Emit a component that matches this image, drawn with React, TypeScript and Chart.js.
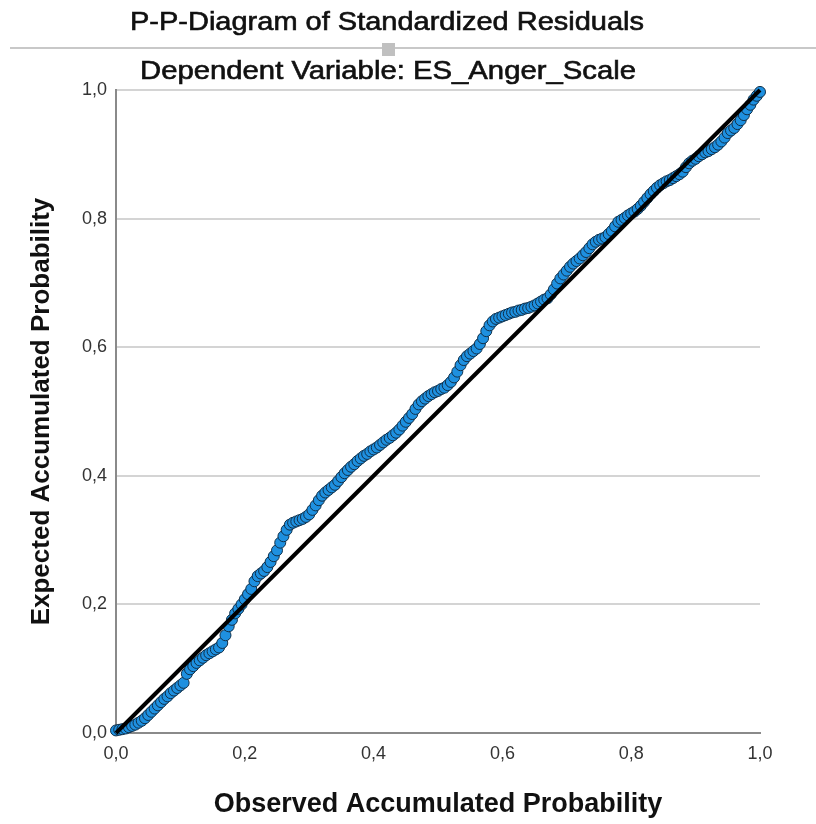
import React, { useEffect, useRef } from "react";
import { Chart, registerables } from "chart.js";

Chart.register(...registerables);

const chartTitle = "P-P-Diagram of Standardized Residuals";
const chartSubtitle = "Dependent Variable: ES_Anger_Scale";
const xAxisTitle = "Observed Accumulated Probability";
const yAxisTitle = "Expected Accumulated Probability";
const tickValues = [0, 0.2, 0.4, 0.6, 0.8, 1.0];
const tickLabels = ["0,0", "0,2", "0,4", "0,6", "0,8", "1,0"];

const observedProb = [
  0.000, 0.005, 0.010, 0.015, 0.020, 0.025, 0.030, 0.035, 0.040, 0.045,
  0.050, 0.055, 0.060, 0.065, 0.070, 0.075, 0.080, 0.085, 0.090, 0.095,
  0.100, 0.105, 0.110, 0.115, 0.120, 0.125, 0.130, 0.135, 0.140, 0.145,
  0.150, 0.155, 0.160, 0.165, 0.170, 0.175, 0.180, 0.185, 0.190, 0.195,
  0.200, 0.205, 0.210, 0.215, 0.220, 0.225, 0.230, 0.235, 0.240, 0.245,
  0.250, 0.255, 0.260, 0.265, 0.270, 0.275, 0.280, 0.285, 0.290, 0.295,
  0.300, 0.305, 0.310, 0.315, 0.320, 0.325, 0.330, 0.335, 0.340, 0.345,
  0.350, 0.355, 0.360, 0.365, 0.370, 0.375, 0.380, 0.385, 0.390, 0.395,
  0.400, 0.405, 0.410, 0.415, 0.420, 0.425, 0.430, 0.435, 0.440, 0.445,
  0.450, 0.455, 0.460, 0.465, 0.470, 0.475, 0.480, 0.485, 0.490, 0.495,
  0.500, 0.505, 0.510, 0.515, 0.520, 0.525, 0.530, 0.535, 0.540, 0.545,
  0.550, 0.555, 0.560, 0.565, 0.570, 0.575, 0.580, 0.585, 0.590, 0.595,
  0.600, 0.605, 0.610, 0.615, 0.620, 0.625, 0.630, 0.635, 0.640, 0.645,
  0.650, 0.655, 0.660, 0.665, 0.670, 0.675, 0.680, 0.685, 0.690, 0.695,
  0.700, 0.705, 0.710, 0.715, 0.720, 0.725, 0.730, 0.735, 0.740, 0.745,
  0.750, 0.755, 0.760, 0.765, 0.770, 0.775, 0.780, 0.785, 0.790, 0.795,
  0.800, 0.805, 0.810, 0.815, 0.820, 0.825, 0.830, 0.835, 0.840, 0.845,
  0.850, 0.855, 0.860, 0.865, 0.870, 0.875, 0.880, 0.885, 0.890, 0.895,
  0.900, 0.905, 0.910, 0.915, 0.920, 0.925, 0.930, 0.935, 0.940, 0.945,
  0.950, 0.955, 0.960, 0.965, 0.970, 0.975, 0.980, 0.985, 0.990, 0.995,
  1.000,
];

const expectedProb = [
  0.004, 0.005, 0.006, 0.007, 0.009, 0.011, 0.013, 0.016, 0.019, 0.023,
  0.028, 0.033, 0.038, 0.043, 0.048, 0.053, 0.057, 0.062, 0.066, 0.070,
  0.074, 0.078, 0.092, 0.099, 0.104, 0.109, 0.113, 0.117, 0.121, 0.124,
  0.127, 0.130, 0.133, 0.140, 0.152, 0.166, 0.176, 0.186, 0.193, 0.200,
  0.208, 0.216, 0.224, 0.236, 0.244, 0.248, 0.252, 0.258, 0.266, 0.275,
  0.284, 0.296, 0.306, 0.316, 0.324, 0.327, 0.329, 0.331, 0.333, 0.336,
  0.340, 0.347, 0.354, 0.362, 0.369, 0.374, 0.378, 0.382, 0.386, 0.392,
  0.398, 0.404, 0.409, 0.414, 0.418, 0.423, 0.427, 0.431, 0.434, 0.438,
  0.441, 0.444, 0.448, 0.452, 0.456, 0.459, 0.463, 0.467, 0.472, 0.478,
  0.484, 0.490, 0.496, 0.504, 0.511, 0.516, 0.520, 0.524, 0.527, 0.530,
  0.532, 0.535, 0.537, 0.541, 0.546, 0.553, 0.562, 0.572, 0.580, 0.586,
  0.590, 0.594, 0.598, 0.605, 0.614, 0.625, 0.634, 0.640, 0.644, 0.646,
  0.648, 0.650, 0.652, 0.654, 0.655, 0.657, 0.658, 0.660, 0.661, 0.663,
  0.665, 0.668, 0.671, 0.674, 0.676, 0.682, 0.690, 0.699, 0.707, 0.713,
  0.719, 0.725, 0.730, 0.734, 0.738, 0.743, 0.748, 0.754, 0.760, 0.764,
  0.767, 0.769, 0.771, 0.776, 0.781, 0.788, 0.795, 0.798, 0.801, 0.805,
  0.808, 0.811, 0.815, 0.820, 0.826, 0.832, 0.838, 0.843, 0.848, 0.852,
  0.855, 0.858, 0.860, 0.863, 0.866, 0.869, 0.873, 0.880, 0.886, 0.890,
  0.893, 0.897, 0.900, 0.903, 0.905, 0.908, 0.911, 0.915, 0.920, 0.926,
  0.933, 0.937, 0.941, 0.947, 0.953, 0.961, 0.970, 0.977, 0.985, 0.991,
  0.997,
];

const diagonalLine = [
  { x: 0, y: 0 },
  { x: 1, y: 1 },
];

const FONT = "'Liberation Sans', Arial, sans-serif";

function drawFitted(ctx: CanvasRenderingContext2D, text: string, cx: number, cy: number, size: number, width: number) {
  ctx.font = `${size}px ${FONT}`;
  const w = ctx.measureText(text).width;
  const sx = width / w;
  ctx.save();
  ctx.translate(cx, cy);
  ctx.scale(sx, 1);
  ctx.textAlign = "center";
  ctx.textBaseline = "middle";
  ctx.lineWidth = 0.6;
  ctx.strokeStyle = "#111111";
  ctx.fillText(text, 0, 0);
  ctx.strokeText(text, 0, 0);
  ctx.restore();
}

const headerPlugin = {
  id: "header",
  afterDraw(chart: any) {
    const ctx = chart.ctx;
    ctx.save();
    ctx.fillStyle = "#111111";
    drawFitted(ctx, chartTitle, 387, 23, 25, 514);
    ctx.strokeStyle = "#c8c8c8";
    ctx.lineWidth = 2;
    ctx.beginPath();
    ctx.moveTo(10, 48);
    ctx.lineTo(816, 48);
    ctx.stroke();
    ctx.fillStyle = "#c0c0c0";
    ctx.fillRect(382, 43, 13, 13);
    ctx.fillStyle = "#111111";
    drawFitted(ctx, chartSubtitle, 388, 72, 25, 496);
    ctx.restore();
  },
};

export default function App() {
  const ref = useRef<HTMLCanvasElement | null>(null);

  useEffect(() => {
    if (!ref.current) return;
    const points = observedProb.map((x, i) => ({ x, y: expectedProb[i] }));
    const chart = new Chart(ref.current, {
      type: "scatter",
      data: {
        datasets: [
          {
            type: "line",
            data: diagonalLine,
            borderColor: "#000000",
            borderWidth: 4,
            pointRadius: 0,
            fill: false,
            clip: false,
          } as any,
          {
            data: points,
            backgroundColor: "#1e90e0",
            borderColor: "#10304a",
            borderWidth: 1,
            pointRadius: 5.5,
            clip: false,
          } as any,
        ],
      },
      options: {
        animation: false,
        responsive: false,
        devicePixelRatio: 1,
        layout: { padding: { top: 90, right: 56, left: 0, bottom: 0 } },
        plugins: {
          legend: { display: false },
          tooltip: { enabled: false },
          title: { display: false },
        },
        scales: {
          x: {
            type: "linear",
            min: 0,
            max: 1,
            afterBuildTicks: (scale: any) => {
              scale.ticks = tickValues.map((v) => ({ value: v }));
            },
            afterFit: (scale: any) => {
              scale.height = 91;
              scale.paddingLeft = 0;
              scale.paddingRight = 0;
            },
            ticks: {
              callback: (v: any) => tickLabels[tickValues.indexOf(Math.round(Number(v) * 10) / 10)] ?? "",
              color: "#333333",
              font: { family: FONT, size: 18 },
              padding: 10,
              maxRotation: 0,
              autoSkip: false,
            },
            grid: { display: false, drawTicks: false },
            border: { display: true, color: "#8a8a8a", width: 2 },
            title: {
              display: true,
              text: xAxisTitle,
              color: "#111111",
              font: { family: FONT, size: 27, weight: "bold" },
              padding: { top: 0, bottom: 3 },
            },
          },
          y: {
            type: "linear",
            min: 0,
            max: 1,
            afterBuildTicks: (scale: any) => {
              scale.ticks = tickValues.map((v) => ({ value: v }));
            },
            afterFit: (scale: any) => {
              scale.width = 116;
              scale.paddingTop = 0;
              scale.paddingBottom = 0;
            },
            ticks: {
              callback: (v: any) => tickLabels[tickValues.indexOf(Math.round(Number(v) * 10) / 10)] ?? "",
              color: "#333333",
              font: { family: FONT, size: 18 },
              padding: 9,
              autoSkip: false,
            },
            grid: { color: "#d4d4d4", lineWidth: 2, drawTicks: false },
            border: { display: true, color: "#8a8a8a", width: 2 },
            title: {
              display: true,
              text: yAxisTitle,
              color: "#111111",
              font: { family: FONT, size: 26, weight: "bold" },
              padding: { top: 26, bottom: 0 },
            },
          },
        },
      },
      plugins: [headerPlugin],
    });
    return () => chart.destroy();
  }, []);

  return (
    <div style={{ position: "absolute", left: 0, top: 0, width: 816, height: 824, background: "#ffffff" }}>
      <canvas ref={ref} width={816} height={824} style={{ display: "block" }} />
    </div>
  );
}
